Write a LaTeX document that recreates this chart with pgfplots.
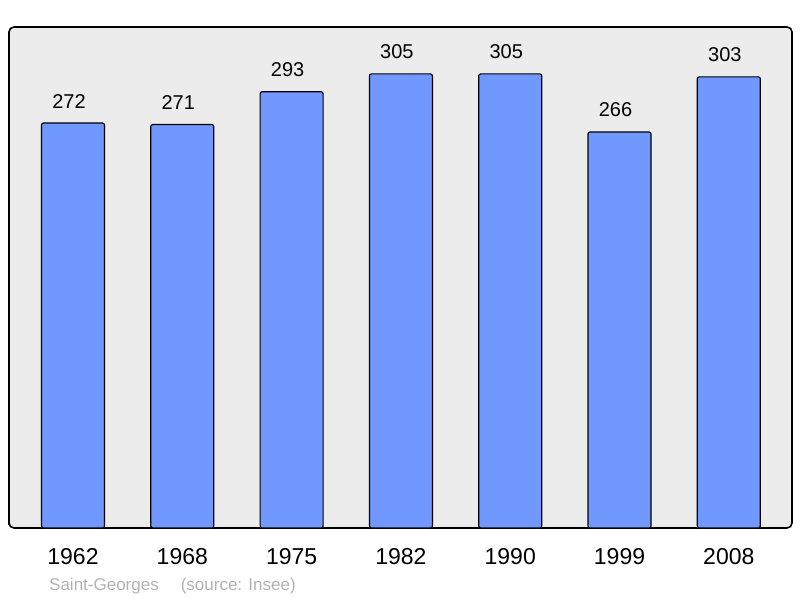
\documentclass[border=0pt]{standalone}
\usepackage{fontspec}
\setmainfont{Liberation Sans}
\usepackage{pgfplots}
\pgfplotsset{compat=1.18}
\definecolor{barblue}{RGB}{112,152,255}
\definecolor{panel}{RGB}{236,236,236}
\definecolor{srcgray}{RGB}{178,178,178}

\begin{document}
\begin{tikzpicture}
\begin{axis}[
  scale only axis,
  width=783bp,
  height=501bp,
  xmin=-0.5855, xmax=6.578,
  ymin=0, ymax=336.5,
  ybar,
  bar width=63bp,
  xtick=data,
  xticklabels={1962,1968,1975,1982,1990,1999,2008},
  ytick=\empty,
  major tick length=0pt,
  x tick label style={font=\fontsize{23bp}{27bp}\selectfont, yshift=-17bp},
  axis background/.style={fill=panel, rounded corners=5bp},
  axis line style={line width=1.6bp, rounded corners=5bp},
  /pgf/number format/assume math mode=true,
  nodes near coords,
  nodes near coords style={font=\fontsize{20bp}{23bp}\selectfont, anchor=south, yshift=11bp, xshift=-4bp},
]
\addplot[fill=barblue, draw=black, line width=1.2bp, rounded corners=2bp] coordinates
  {(0,272) (1,271) (2,293) (3,305) (4,305) (5,266) (6,303)};
\end{axis}
\node[anchor=west, text=srcgray, font=\fontsize{17bp}{20bp}\selectfont, inner sep=0pt]
  at ([xshift=40bp, yshift=-58bp]current axis.south west) {Saint-Georges\hspace{22bp}(source: Insee)};
\path ([xshift=-9bp, yshift=-70bp]current axis.south west) rectangle ([xshift=8bp, yshift=27bp]current axis.north east);
\end{tikzpicture}
\end{document}
